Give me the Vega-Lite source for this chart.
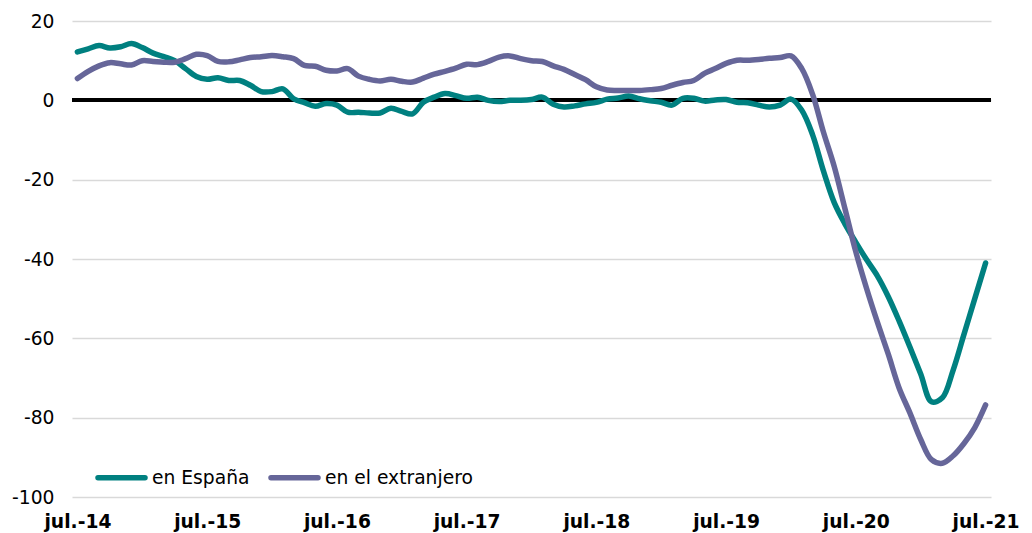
{
  "$schema": "https://vega.github.io/schema/vega-lite/v6.json",
  "width": 919,
  "height": 476,
  "autosize": {"type": "none"},
  "padding": {"left": 72, "top": 21, "right": 41, "bottom": 36},
  "background": "white",
  "config": {
    "view": {"stroke": null},
    "font": "DejaVu Sans"
  },
  "data": {
    "values": [
      {"m":"jul.-14","s":"en España","v":12.2},{"m":"ago.-14","s":"en España","v":13.0},{"m":"sep.-14","s":"en España","v":13.8},{"m":"oct.-14","s":"en España","v":13.2},{"m":"nov.-14","s":"en España","v":13.5},{"m":"dic.-14","s":"en España","v":14.3},
      {"m":"ene.-15","s":"en España","v":13.3},{"m":"feb.-15","s":"en España","v":11.9},{"m":"mar.-15","s":"en España","v":11.0},{"m":"abr.-15","s":"en España","v":10.0},{"m":"may.-15","s":"en España","v":8.0},{"m":"jun.-15","s":"en España","v":6.0},
      {"m":"jul.-15","s":"en España","v":5.3},{"m":"ago.-15","s":"en España","v":5.7},{"m":"sep.-15","s":"en España","v":5.0},{"m":"oct.-15","s":"en España","v":5.0},{"m":"nov.-15","s":"en España","v":3.8},{"m":"dic.-15","s":"en España","v":2.2},
      {"m":"ene.-16","s":"en España","v":2.2},{"m":"feb.-16","s":"en España","v":2.9},{"m":"mar.-16","s":"en España","v":0.4},{"m":"abr.-16","s":"en España","v":-0.6},{"m":"may.-16","s":"en España","v":-1.5},{"m":"jun.-16","s":"en España","v":-0.8},
      {"m":"jul.-16","s":"en España","v":-1.2},{"m":"ago.-16","s":"en España","v":-3.0},{"m":"sep.-16","s":"en España","v":-3.0},{"m":"oct.-16","s":"en España","v":-3.2},{"m":"nov.-16","s":"en España","v":-3.2},{"m":"dic.-16","s":"en España","v":-2.0},
      {"m":"ene.-17","s":"en España","v":-2.8},{"m":"feb.-17","s":"en España","v":-3.4},{"m":"mar.-17","s":"en España","v":-0.5},{"m":"abr.-17","s":"en España","v":0.8},{"m":"may.-17","s":"en España","v":1.7},{"m":"jun.-17","s":"en España","v":1.2},
      {"m":"jul.-17","s":"en España","v":0.5},{"m":"ago.-17","s":"en España","v":0.8},{"m":"sep.-17","s":"en España","v":0.0},{"m":"oct.-17","s":"en España","v":-0.3},{"m":"nov.-17","s":"en España","v":0.0},{"m":"dic.-17","s":"en España","v":0.0},
      {"m":"ene.-18","s":"en España","v":0.2},{"m":"feb.-18","s":"en España","v":0.8},{"m":"mar.-18","s":"en España","v":-1.0},{"m":"abr.-18","s":"en España","v":-1.7},{"m":"may.-18","s":"en España","v":-1.4},{"m":"jun.-18","s":"en España","v":-0.9},
      {"m":"jul.-18","s":"en España","v":-0.5},{"m":"ago.-18","s":"en España","v":0.3},{"m":"sep.-18","s":"en España","v":0.6},{"m":"oct.-18","s":"en España","v":1.1},{"m":"nov.-18","s":"en España","v":0.4},{"m":"dic.-18","s":"en España","v":-0.1},
      {"m":"ene.-19","s":"en España","v":-0.5},{"m":"feb.-19","s":"en España","v":-1.2},{"m":"mar.-19","s":"en España","v":0.5},{"m":"abr.-19","s":"en España","v":0.5},{"m":"may.-19","s":"en España","v":-0.2},{"m":"jun.-19","s":"en España","v":0.1},
      {"m":"jul.-19","s":"en España","v":0.2},{"m":"ago.-19","s":"en España","v":-0.5},{"m":"sep.-19","s":"en España","v":-0.6},{"m":"oct.-19","s":"en España","v":-1.2},{"m":"nov.-19","s":"en España","v":-1.7},{"m":"dic.-19","s":"en España","v":-1.2},
      {"m":"ene.-20","s":"en España","v":0.3},{"m":"feb.-20","s":"en España","v":-2.5},{"m":"mar.-20","s":"en España","v":-8.7},{"m":"abr.-20","s":"en España","v":-17.8},{"m":"may.-20","s":"en España","v":-25.8},{"m":"jun.-20","s":"en España","v":-31.2},
      {"m":"jul.-20","s":"en España","v":-35.8},{"m":"ago.-20","s":"en España","v":-40.2},{"m":"sep.-20","s":"en España","v":-44.3},{"m":"oct.-20","s":"en España","v":-49.5},{"m":"nov.-20","s":"en España","v":-55.6},{"m":"dic.-20","s":"en España","v":-62.2},
      {"m":"ene.-21","s":"en España","v":-69.0},{"m":"feb.-21","s":"en España","v":-76.0},{"m":"mar.-21","s":"en España","v":-75.0},{"m":"abr.-21","s":"en España","v":-68.0},{"m":"may.-21","s":"en España","v":-59.0},{"m":"jun.-21","s":"en España","v":-50.0},
      {"m":"jul.-21","s":"en España","v":-41.0},

      {"m":"jul.-14","s":"en el extranjero","v":5.5},{"m":"ago.-14","s":"en el extranjero","v":7.3},{"m":"sep.-14","s":"en el extranjero","v":8.7},{"m":"oct.-14","s":"en el extranjero","v":9.5},{"m":"nov.-14","s":"en el extranjero","v":9.2},{"m":"dic.-14","s":"en el extranjero","v":8.9},
      {"m":"ene.-15","s":"en el extranjero","v":10.0},{"m":"feb.-15","s":"en el extranjero","v":9.8},{"m":"mar.-15","s":"en el extranjero","v":9.6},{"m":"abr.-15","s":"en el extranjero","v":9.6},{"m":"may.-15","s":"en el extranjero","v":10.5},{"m":"jun.-15","s":"en el extranjero","v":11.6},
      {"m":"jul.-15","s":"en el extranjero","v":11.3},{"m":"ago.-15","s":"en el extranjero","v":9.8},{"m":"sep.-15","s":"en el extranjero","v":9.7},{"m":"oct.-15","s":"en el extranjero","v":10.2},{"m":"nov.-15","s":"en el extranjero","v":10.8},{"m":"dic.-15","s":"en el extranjero","v":11.0},
      {"m":"ene.-16","s":"en el extranjero","v":11.3},{"m":"feb.-16","s":"en el extranjero","v":11.0},{"m":"mar.-16","s":"en el extranjero","v":10.5},{"m":"abr.-16","s":"en el extranjero","v":8.8},{"m":"may.-16","s":"en el extranjero","v":8.6},{"m":"jun.-16","s":"en el extranjero","v":7.6},
      {"m":"jul.-16","s":"en el extranjero","v":7.4},{"m":"ago.-16","s":"en el extranjero","v":8.0},{"m":"sep.-16","s":"en el extranjero","v":6.1},{"m":"oct.-16","s":"en el extranjero","v":5.3},{"m":"nov.-16","s":"en el extranjero","v":4.9},{"m":"dic.-16","s":"en el extranjero","v":5.3},
      {"m":"ene.-17","s":"en el extranjero","v":4.8},{"m":"feb.-17","s":"en el extranjero","v":4.6},{"m":"mar.-17","s":"en el extranjero","v":5.6},{"m":"abr.-17","s":"en el extranjero","v":6.6},{"m":"may.-17","s":"en el extranjero","v":7.3},{"m":"jun.-17","s":"en el extranjero","v":8.1},
      {"m":"jul.-17","s":"en el extranjero","v":9.1},{"m":"ago.-17","s":"en el extranjero","v":9.0},{"m":"sep.-17","s":"en el extranjero","v":9.8},{"m":"oct.-17","s":"en el extranjero","v":10.9},{"m":"nov.-17","s":"en el extranjero","v":11.2},{"m":"dic.-17","s":"en el extranjero","v":10.5},
      {"m":"ene.-18","s":"en el extranjero","v":10.0},{"m":"feb.-18","s":"en el extranjero","v":9.8},{"m":"mar.-18","s":"en el extranjero","v":8.7},{"m":"abr.-18","s":"en el extranjero","v":7.8},{"m":"may.-18","s":"en el extranjero","v":6.5},{"m":"jun.-18","s":"en el extranjero","v":5.2},
      {"m":"jul.-18","s":"en el extranjero","v":3.4},{"m":"ago.-18","s":"en el extranjero","v":2.6},{"m":"sep.-18","s":"en el extranjero","v":2.5},{"m":"oct.-18","s":"en el extranjero","v":2.5},{"m":"nov.-18","s":"en el extranjero","v":2.5},{"m":"dic.-18","s":"en el extranjero","v":2.7},
      {"m":"ene.-19","s":"en el extranjero","v":3.0},{"m":"feb.-19","s":"en el extranjero","v":3.8},{"m":"mar.-19","s":"en el extranjero","v":4.5},{"m":"abr.-19","s":"en el extranjero","v":5.0},{"m":"may.-19","s":"en el extranjero","v":6.8},{"m":"jun.-19","s":"en el extranjero","v":8.0},
      {"m":"jul.-19","s":"en el extranjero","v":9.3},{"m":"ago.-19","s":"en el extranjero","v":10.1},{"m":"sep.-19","s":"en el extranjero","v":10.1},{"m":"oct.-19","s":"en el extranjero","v":10.3},{"m":"nov.-19","s":"en el extranjero","v":10.6},{"m":"dic.-19","s":"en el extranjero","v":10.8},
      {"m":"ene.-20","s":"en el extranjero","v":11.2},{"m":"feb.-20","s":"en el extranjero","v":8.0},{"m":"mar.-20","s":"en el extranjero","v":1.5},{"m":"abr.-20","s":"en el extranjero","v":-8.0},{"m":"may.-20","s":"en el extranjero","v":-16.7},{"m":"jun.-20","s":"en el extranjero","v":-27.4},
      {"m":"jul.-20","s":"en el extranjero","v":-38.2},{"m":"ago.-20","s":"en el extranjero","v":-47.5},{"m":"sep.-20","s":"en el extranjero","v":-56.0},{"m":"oct.-20","s":"en el extranjero","v":-64.0},{"m":"nov.-20","s":"en el extranjero","v":-72.5},{"m":"dic.-20","s":"en el extranjero","v":-78.8},
      {"m":"ene.-21","s":"en el extranjero","v":-85.5},{"m":"feb.-21","s":"en el extranjero","v":-90.6},{"m":"mar.-21","s":"en el extranjero","v":-91.5},{"m":"abr.-21","s":"en el extranjero","v":-89.6},{"m":"may.-21","s":"en el extranjero","v":-86.5},{"m":"jun.-21","s":"en el extranjero","v":-82.5},
      {"m":"jul.-21","s":"en el extranjero","v":-76.8}
    ]
  },
  "encoding": {
    "x": {
      "field": "m",
      "type": "ordinal",
      "sort": null,
      "scale": {"type": "point", "padding": 0.5},
      "axis": {
        "title": null,
        "values": ["jul.-14","jul.-15","jul.-16","jul.-17","jul.-18","jul.-19","jul.-20","jul.-21"],
        "labelAngle": 0,
        "labelFontSize": 18.7,
        "labelFontWeight": "bold",
        "labelColor": "#000000",
        "labelPadding": 15,
        "ticks": false,
        "domain": false,
        "grid": false
      }
    },
    "y": {
      "field": "v",
      "type": "quantitative",
      "scale": {"domain": [-100, 20], "nice": false, "zero": false},
      "axis": {
        "title": null,
        "values": [-100, -80, -60, -40, -20, 0, 20],
        "labelExpr": "'' + datum.value",
        "labelFontSize": 18.7,
        "labelColor": "#000000",
        "labelPadding": 18,
        "ticks": false,
        "domain": false,
        "grid": true,
        "gridColor": "#d9d9d9",
        "gridWidth": 1.3
      }
    }
  },
  "layer": [
    {
      "mark": {"type": "rule", "color": "#000000", "strokeWidth": 3.5},
      "encoding": {"y": {"datum": 0}, "x": null}
    },
    {
      "mark": {"type": "line", "strokeWidth": 5.5, "interpolate": "catmull-rom", "strokeCap": "round", "strokeJoin": "round"},
      "encoding": {
        "color": {
          "field": "s",
          "type": "nominal",
          "scale": {"domain": ["en España", "en el extranjero"], "range": ["#008080", "#666699"]},
          "legend": {
            "title": null,
            "orient": "none",
            "legendX": 23,
            "legendY": 430,
            "direction": "horizontal",
            "symbolType": "stroke",
            "symbolSize": 2209,
            "symbolStrokeWidth": 5.5,
            "labelFontSize": 18.7,
            "labelColor": "#000000",
            "labelOffset": 4,
            "columnPadding": 10,
            "padding": 0,
            "encode": {"symbols": {"update": {"strokeCap": {"value": "round"}}}}
          }
        }
      }
    }
  ]
}
